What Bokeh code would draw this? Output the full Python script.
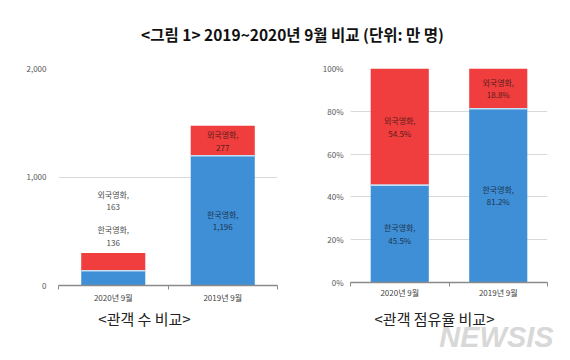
from bokeh.plotting import figure
from bokeh.models import Range1d, FixedTicker, Label, NumeralTickFormatter, PrintfTickFormatter, ColumnDataSource
from bokeh.layouts import column, row
from bokeh.embed import file_html
from bokeh.resources import INLINE
from bokeh.core.properties import value
import numpy as np

categories = ["2020년 9월", "2019년 9월"]
korean_count = [136, 1196]
foreign_count = [163, 277]
korean_share = [45.5, 81.2]
foreign_share = [54.5, 18.8]
korean_name = "한국영화"
foreign_name = "외국영화"
count_ticks = [0, 1000, 2000]
share_ticks = [0, 20, 40, 60, 80, 100]
main_title = "<그림 1> 2019~2020년 9월 비교 (단위: 만 명)"
left_title = "<관객 수 비교>"
right_title = "<관객 점유율 비교>"
watermark = "NEWSIS"

FONT = "Noto Sans CJK KR"
BLUE = "#3f8fd6"
RED = "#f03e3e"


def blank_fig(w, h):
    f = figure(width=w, height=h, output_backend="svg", toolbar_location=None,
               x_range=Range1d(0, w), y_range=Range1d(h, 0),
               x_axis_type=None, y_axis_type=None,
               min_border_left=0, min_border_right=0, min_border_top=0, min_border_bottom=0)
    f.outline_line_color = None
    f.xgrid.grid_line_color = None
    f.ygrid.grid_line_color = None
    return f


def make_chart(width, height, borders, ymax, ticks, formatter, han, oe, fmt, bar_w,
               ystand, xstand, outside):
    l, r, t, b = borders
    p = figure(frame_width=width - l - r, frame_height=height - t - b, output_backend="svg",
               toolbar_location=None,
               x_range=Range1d(0, len(categories)), y_range=Range1d(0, ymax),
               min_border_left=l, min_border_right=r, min_border_top=t, min_border_bottom=b)
    p.outline_line_color = None
    xs = np.arange(len(categories)) + 0.5
    han = np.array(han, dtype=float)
    oe = np.array(oe, dtype=float)
    tot = han + oe
    p.vbar(x=xs, width=bar_w, bottom=0, top=han, fill_color=BLUE, line_color=None)
    p.vbar(x=xs, width=bar_w, bottom=han, top=tot, fill_color=RED, line_color=None)
    p.segment(x0=xs - bar_w / 2, x1=xs + bar_w / 2, y0=han, y1=han,
              line_color="#c4def4", line_width=1.6)

    lx, ly, lt, lc, lo = [], [], [], [], []
    for i in range(len(categories)):
        ht = korean_name + ",\n" + fmt(han[i])
        ot = foreign_name + ",\n" + fmt(oe[i])
        if outside[i]:
            lx += [xs[i], xs[i]]
            ly += [tot[i], tot[i]]
            lt += [ht, ot]
            lc += ["#4a4a4a", "#4a4a4a"]
            lo += [-17, -52.5]
        else:
            lx += [xs[i], xs[i]]
            ly += [han[i] / 2, han[i] + oe[i] / 2]
            lt += [ht, ot]
            lc += ["#1d3550", "#5a1c1c"]
            lo += [0, 0]
    src = ColumnDataSource(dict(x=lx, y=ly, text=lt, color=lc, off=lo))
    p.text(x="x", y="y", text="text", y_offset="off", source=src, text_color="color",
           text_font=value(FONT), text_font_size="8px", text_align="center",
           text_baseline="middle", text_line_height=1.15)

    p.xgrid.grid_line_color = None
    p.ygrid.grid_line_color = "#d9d9d9"
    p.ygrid.grid_line_width = 1
    p.ygrid.ticker = FixedTicker(ticks=ticks)

    xa = p.xaxis[0]
    xa.ticker = FixedTicker(ticks=list(xs), minor_ticks=list(range(len(categories) + 1)))
    xa.major_label_overrides = {float(x): c for x, c in zip(xs, categories)}
    xa.major_tick_line_color = None
    xa.major_tick_out = 0
    xa.major_tick_in = 0
    xa.minor_tick_line_color = "#8a8a8a"
    xa.minor_tick_out = 4
    xa.minor_tick_in = 0
    xa.axis_line_color = "#8a8a8a"
    xa.axis_line_width = 1.5
    xa.major_label_standoff = xstand
    xa.major_label_text_font = FONT
    xa.major_label_text_font_size = "8px"
    xa.major_label_text_color = "#444444"

    ya = p.yaxis[0]
    ya.ticker = FixedTicker(ticks=ticks)
    ya.formatter = formatter
    ya.axis_line_color = None
    ya.major_tick_line_color = None
    ya.minor_tick_line_color = None
    ya.major_tick_out = 0
    ya.major_tick_in = 0
    ya.major_label_standoff = ystand
    ya.major_label_text_font = FONT
    ya.major_label_text_font_size = "8px"
    ya.major_label_text_color = "#555555"
    return p


left = make_chart(290, 249, (58, 13, 12, 20), 2000, count_ticks, NumeralTickFormatter(format="0,0"),
                  korean_count, foreign_count, lambda v: f"{int(round(v)):,}", 0.585, 12, 2,
                  [True, False])
right = make_chart(280, 249, (60, 23, 10, 25), 100, share_ticks, PrintfTickFormatter(format="%d%%"),
                   korean_share, foreign_share, lambda v: f"{v:.1f}%", 0.59, 7, 0,
                   [False, False])

tfig = blank_fig(570, 56)
tfig.add_layout(Label(x=292, y=33, text=main_title, text_font=FONT, text_font_size="15.5px",
                      text_font_style="bold", text_color="#111111", text_align="center",
                      text_baseline="middle"))

bfig = blank_fig(570, 55)
bfig.add_layout(Label(x=496, y=31, text=watermark, text_font="Liberation Sans",
                      text_font_size="29px", text_font_style="bold italic",
                      text_color="#d8d8d8", text_align="center", text_baseline="middle"))
bfig.add_layout(Label(x=144, y=13, text=left_title, text_font=FONT, text_font_size="15px",
                      text_color="#222222", text_align="center", text_baseline="middle"))
bfig.add_layout(Label(x=434, y=13, text=right_title, text_font=FONT, text_font_size="15px",
                      text_color="#222222", text_align="center", text_baseline="middle"))

layout = column(tfig, row(left, right), bfig)
open("out.html", "w").write(file_html(layout, INLINE))
